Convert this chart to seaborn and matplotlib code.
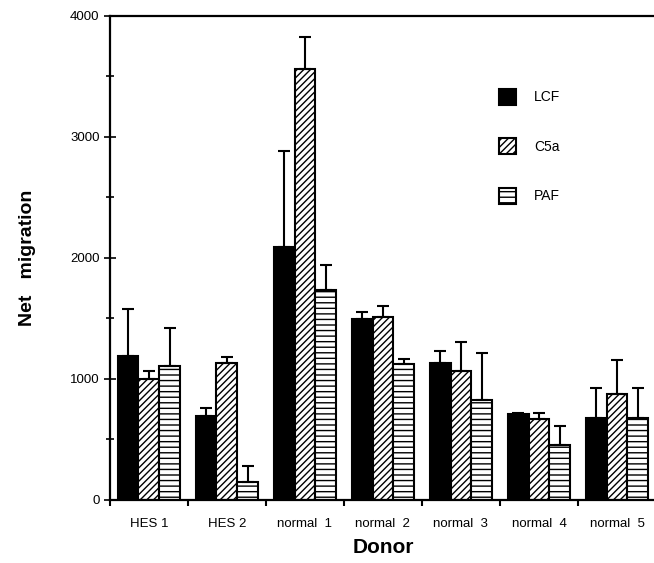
import matplotlib
matplotlib.use("Agg")
import matplotlib.pyplot as plt
import seaborn as sns
import numpy as np
import pandas as pd
from matplotlib.patches import Patch
from matplotlib.ticker import MultipleLocator, FixedLocator

donors = ["HES 1", "HES 2", "normal  1", "normal  2", "normal  3", "normal  4", "normal  5"]
stimuli = ["LCF", "C5a", "PAF"]
lcf = [1190, 694, 2091, 1496, 1132, 711, 678]
c5a = [1000, 1132, 3562, 1512, 1066, 669, 876]
paf = [1107, 150, 1736, 1124, 826, 455, 678]
lcf_err = [388, 66, 793, 58, 99, 9, 248]
c5a_err = [66, 50, 264, 91, 240, 50, 281]
paf_err = [314, 133, 206, 41, 389, 157, 248]

rows = []
for s, vals, errs in [("LCF", lcf, lcf_err), ("C5a", c5a, c5a_err), ("PAF", paf, paf_err)]:
    for d, v, e in zip(donors, vals, errs):
        rows.append({"Donor": d, "Stimulus": s, "value": v, "err": e})
df = pd.DataFrame(rows)

sns.set_theme(style="ticks")
plt.rcParams["font.family"] = ["Liberation Sans", "DejaVu Sans"]
plt.rcParams["hatch.linewidth"] = 1.0
plt.rcParams["text.color"] = "black"
plt.rcParams["axes.labelcolor"] = "black"
plt.rcParams["xtick.color"] = "black"
plt.rcParams["ytick.color"] = "black"

fig = plt.figure(figsize=(6.54, 5.63), dpi=100)
ax = fig.add_axes([0.168, 0.112, 0.835, 0.86])

palette = {"LCF": "black", "C5a": "white", "PAF": "white"}
sns.barplot(data=df, x="Donor", y="value", hue="Stimulus", order=donors,
            hue_order=stimuli, palette=palette, errorbar=None, width=0.8,
            edgecolor="black", linewidth=1.5, ax=ax, legend=False, saturation=1)

hatches = {"LCF": "", "C5a": "/////", "PAF": "---"}
for cont, s in zip(ax.containers, stimuli):
    sub = df[df.Stimulus == s].set_index("Donor").loc[donors]
    xs, ys = [], []
    for bar in cont:
        bar.set_hatch(hatches[s])
        bar.set_edgecolor("black")
        xs.append(bar.get_x() + bar.get_width() / 2)
        ys.append(bar.get_height())
    ax.errorbar(xs, ys, yerr=[np.zeros(len(ys)), sub["err"].values], fmt="none",
                ecolor="black", elinewidth=1.5, capsize=4.5, capthick=1.5, zorder=1)

ax.set_ylim(0, 4000)
ax.set_xlim(-0.5, 6.5)
ax.yaxis.set_major_locator(MultipleLocator(1000))
ax.yaxis.set_minor_locator(MultipleLocator(500))
ax.xaxis.set_minor_locator(FixedLocator(np.arange(-0.5, 7.0, 1.0)))
ax.tick_params(axis="x", which="major", length=0, labelsize=9.5, pad=13)
ax.tick_params(axis="x", which="minor", length=4, width=1.5, direction="out")
ax.tick_params(axis="y", which="major", length=8, width=1.2, direction="inout", labelsize=9.5)
ax.tick_params(axis="y", which="minor", length=6, width=1.2, direction="inout")

for sp in ["left", "bottom", "top"]:
    ax.spines[sp].set_linewidth(1.6)
    ax.spines[sp].set_color("black")
ax.spines["right"].set_visible(False)

ax.set_xlabel("Donor", fontsize=15, fontweight="bold", labelpad=6)
ax.set_ylabel("Net   migration", fontsize=14, fontweight="bold", labelpad=24)

handles = [Patch(facecolor=palette[s], edgecolor="black", hatch=hatches[s], linewidth=1.5, label=s)
           for s in stimuli]
ax.legend(handles=handles, loc="upper left", bbox_to_anchor=(0.69, 0.875), frameon=False,
          fontsize=10, handlelength=1.2, handleheight=1.4, labelspacing=2.4, handletextpad=1.3)

fig.savefig("out.png", dpi=100)
